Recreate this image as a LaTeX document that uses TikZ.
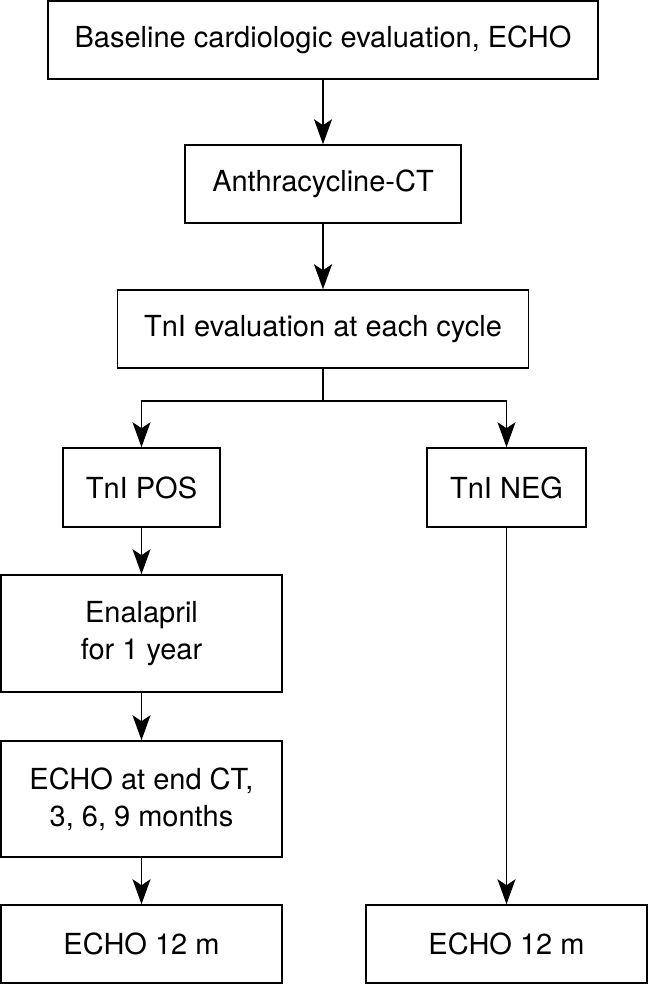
\documentclass[tikz,border=0pt]{standalone}
\usepackage{fontspec}
\setmainfont{TeX Gyre Heros}
\usetikzlibrary{arrows.meta,positioning,calc}

\begin{document}
\begin{tikzpicture}[x=0.5pt, y=-0.5pt,
    box/.style={draw, line width=0.75pt, inner sep=0pt, align=center,
        font=\fontsize{14.5}{18.3}\selectfont},
    flow/.style={-{Stealth[length=12.5pt, width=9pt, inset=3pt]}, line width=0.85pt}]
    \useasboundingbox (0,0) rectangle (649,985);

    % Common trunk
    \node[box, minimum width=275pt, minimum height=39pt] (baseline) at (323, 40) {Baseline cardiologic evaluation, ECHO};
    \node[box, minimum width=138pt, minimum height=39pt] (anthra) at (323, 184) {Anthracycline-CT};
    \node[box, minimum width=205.5pt, minimum height=39pt] (tnieval) at (323, 329) {TnI evaluation at each cycle};
    \coordinate (split) at (323, 401);

    % Positive branch
    \node[box, minimum width=78.5pt, minimum height=39.5pt] (tnipos) at (141.5, 487.5) {TnI POS};
    \node[box, minimum width=140.5pt, minimum height=58.5pt] (enalapril) at (141.5, 633.5) {Enalapril\\for 1 year};
    \node[box, minimum width=140.5pt, minimum height=58pt] (echofollow) at (141.5, 799) {ECHO at end CT,\\3, 6, 9 months};
    \node[box, minimum width=140.5pt, minimum height=39pt] (echoposend) at (141.5, 944) {ECHO 12 m};

    % Negative branch
    \node[box, minimum width=79.5pt, minimum height=39.5pt] (tnineg) at (506.5, 487.5) {TnI NEG};
    \node[box, minimum width=140.5pt, minimum height=39pt] (echonegend) at (506.5, 944) {ECHO 12 m};

    % Arrows
    \draw[flow] (baseline) -- (anthra);
    \draw[flow] (anthra) -- (tnieval);
    \draw[line width=0.85pt] (tnieval) -- (split);
    \draw[flow] (split) -| (tnipos);
    \draw[flow] (split) -| (tnineg);
    \draw[flow] (tnipos) -- (enalapril);
    \draw[flow] (enalapril) -- (echofollow);
    \draw[flow] (echofollow) -- (echoposend);
    \draw[flow] (tnineg) -- (echonegend);
\end{tikzpicture}
\end{document}
